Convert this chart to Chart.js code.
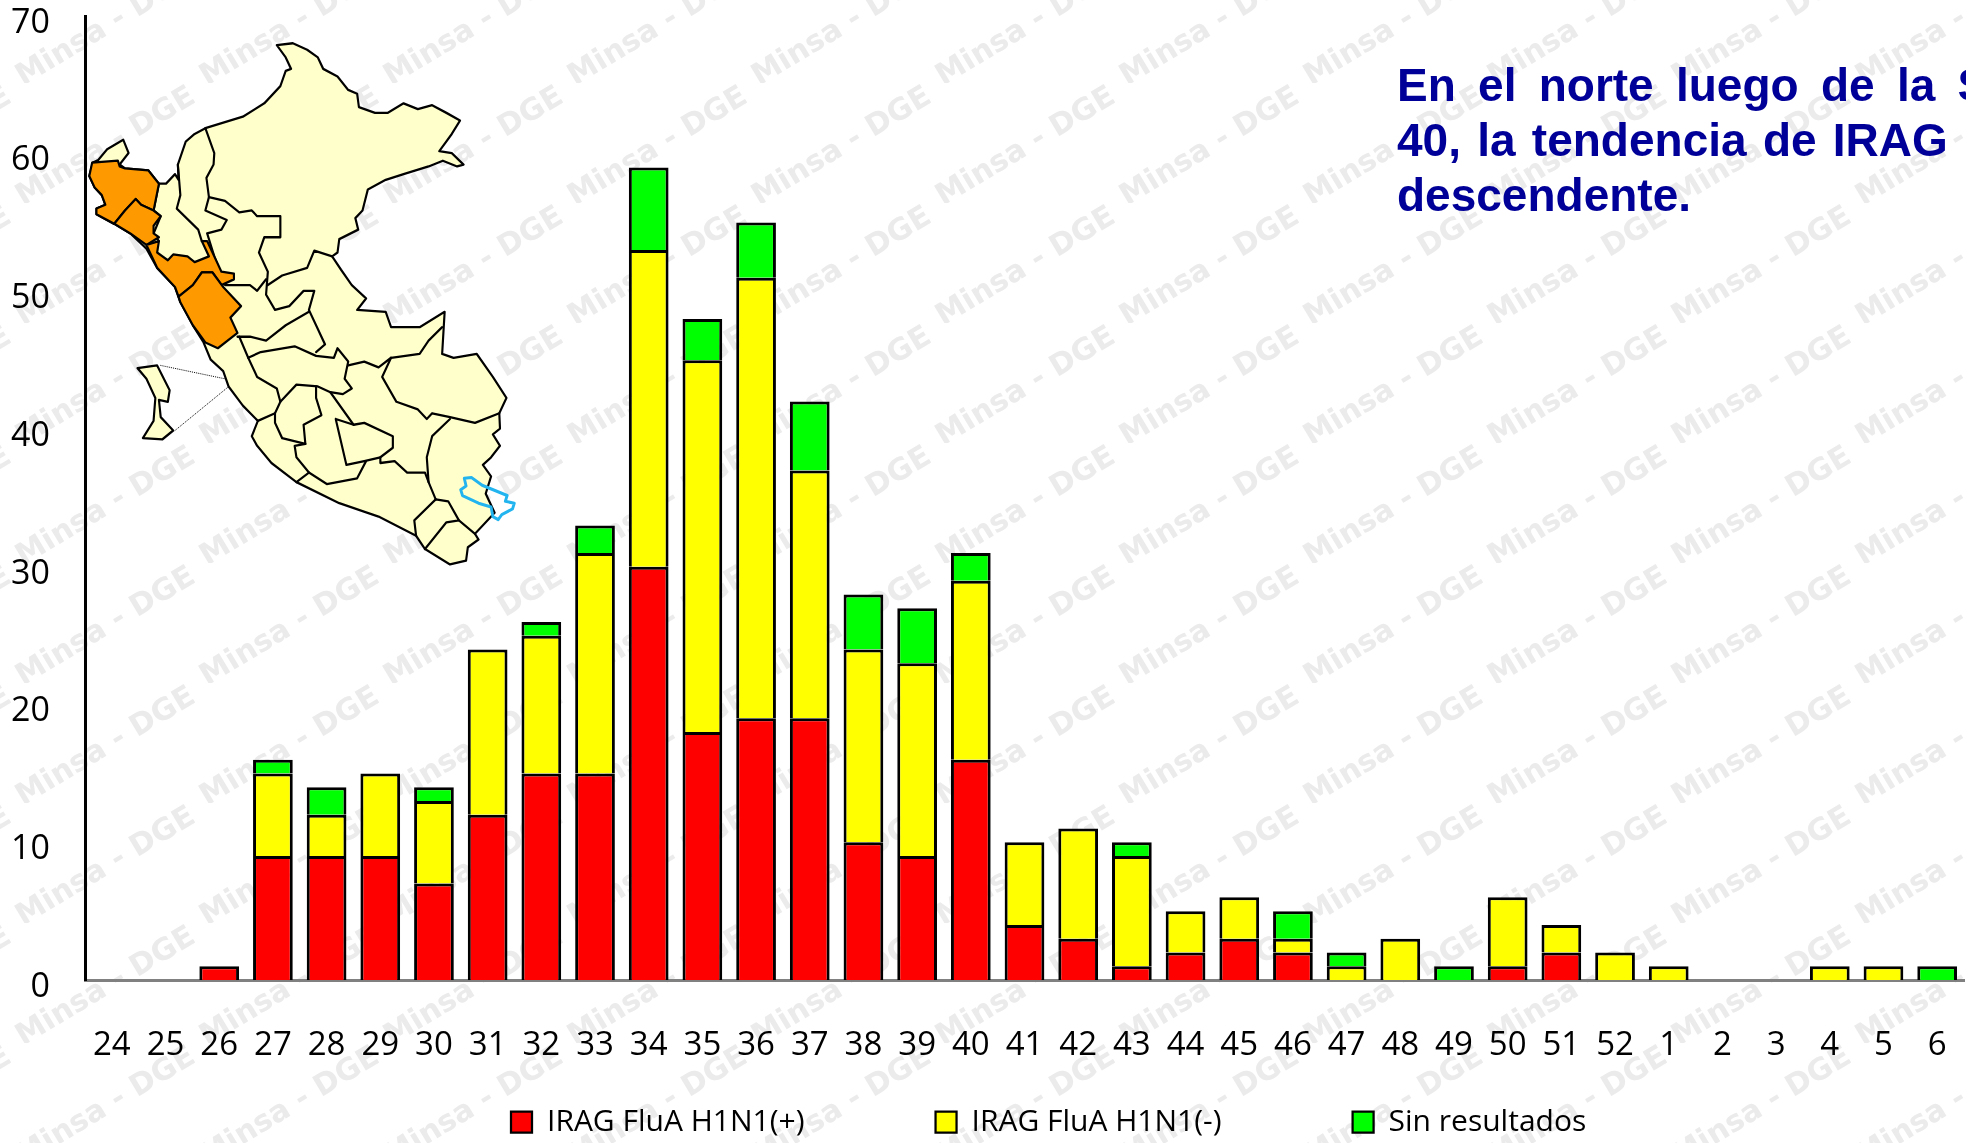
<!DOCTYPE html>
<html lang="es">
<head>
<meta charset="utf-8">
<title>IRAG FluA H1N1</title>
<script src="https://cdn.jsdelivr.net/npm/chart.js@4"></script>
<style>
html,body{margin:0;padding:0;background:#fff;width:1966px;height:1143px;overflow:hidden}
#wrap{position:relative;width:1966px;height:1143px;overflow:hidden}
#c{position:absolute;left:0;top:0}
#map{position:absolute;left:0;top:0;width:560px;height:600px}
.msg{position:absolute;left:1397px;white-space:nowrap;font:bold 46px/55px "Liberation Sans",Arial,sans-serif;color:#000099}
</style>
</head>
<body>
<div id="wrap">
<canvas id="c" width="1966" height="1143"></canvas>
<svg id="map" viewBox="0 0 1568 1568" preserveAspectRatio="none" stroke-linejoin="round" stroke-linecap="round">
  <g fill="#FFFFCC" stroke="#000" stroke-width="6">
    <path d="M775,118 820,113 860,130 890,150 905,180 945,200 975,235 1000,245 1005,280 1050,295 1085,295 1130,270 1170,285 1210,275 1250,295 1288,315 1265,350 1230,395 1265,400 1298,430 1280,435 1240,420 1200,435 1130,455 1080,470 1030,495 1015,550 995,570 1003,600 950,625 945,660 930,670 955,705 985,745 1025,780 1000,810 1080,815 1095,855 1175,855 1245,815 1238,925 1270,935 1335,925 1380,985 1418,1040 1398,1080 1400,1120 1380,1135 1400,1165 1375,1195 1352,1215 1375,1245 1360,1290 1385,1340 1330,1395 1340,1410 1310,1430 1305,1465 1260,1475 1190,1435 1165,1400 1060,1350 950,1315 830,1260 760,1210 720,1165 705,1140 722,1100 680,1060 640,1010 625,970 590,940 570,895 540,850 505,790 490,750 440,700 410,650 365,610 320,585 270,560 270,545 295,535 285,510 265,490 250,460 260,425 275,418 300,390 345,365 360,400 335,430 350,440 415,445 445,480 465,480 490,455 500,470 498,430 520,370 545,350 575,335 680,305 740,270 785,225 800,185 815,180 800,150Z"/>
    <path d="M385,962 440,955 475,1020 470,1050 445,1045 450,1090 485,1125 455,1148 400,1145 430,1100 435,1040 410,990Z"/>
  </g>
  <g fill="none" stroke="#000" stroke-width="6">
    <path d="M575,335 600,400 598,430 578,465 585,515 630,525 670,555 705,550 720,565 785,565 785,620 740,620 725,660 750,710 745,770 770,810 810,800 850,760 880,760 865,810 885,850 910,900 885,920"/>
    <path d="M750,745 790,720 860,700 880,655 930,670"/>
    <path d="M445,480 430,550 450,565 430,610 445,630"/>
    <path d="M498,430 505,510 495,545 555,600 565,630"/>
    <path d="M585,515 575,550 635,575 620,600 580,610 600,670 620,720"/>
    <path d="M630,745 700,745 720,760 745,730"/>
    <path d="M665,880 700,880 745,890 800,850 865,815"/>
    <path d="M695,935 730,920 825,905 885,930 935,935 945,910 975,945 965,990 985,1015 960,1030 925,1025 890,1010 830,1005 785,1050"/>
    <path d="M670,880 695,935 720,985 775,1015 785,1050 770,1080 722,1100"/>
    <path d="M975,955 1020,945 1060,960 1095,935 1175,925 1200,890 1238,855"/>
    <path d="M1095,935 1070,985 1110,1050 1170,1070 1195,1095 1210,1080 1260,1090 1330,1105 1398,1080"/>
    <path d="M1260,1095 1210,1140 1195,1195 1200,1260 1220,1305"/>
    <path d="M925,1025 990,1110 1020,1105 1100,1140 1100,1170 1065,1195 1065,1210 1105,1205 1140,1235 1190,1235 1200,1260"/>
    <path d="M940,1095 990,1110 M1065,1195 1020,1205 970,1215 940,1095"/>
    <path d="M885,1010 885,1040 900,1085 850,1110 855,1160 790,1145 770,1105 770,1080"/>
    <path d="M855,1160 825,1165 830,1195 865,1235 830,1260"/>
    <path d="M865,1235 915,1265 1000,1250 1025,1205"/>
    <path d="M1220,1305 1160,1360 1165,1400"/>
    <path d="M1220,1305 1255,1310 1285,1360 1250,1365 1190,1435"/>
    <path d="M1285,1360 1330,1395"/>
  </g>
  <g fill="#FF9900" stroke="#000" stroke-width="6">
    <path d="M258,425 330,420 335,435 350,440 415,445 445,480 430,550 395,535 380,520 350,550 320,585 270,560 270,545 295,535 285,510 265,490 250,460Z"/>
    <path d="M320,585 350,550 380,520 395,535 430,550 450,565 430,590 430,610 445,620 410,640 365,610Z"/>
    <path d="M410,640 445,630 440,660 470,680 485,665 525,670 545,685 585,670 565,630 580,630 620,710 655,715 655,730 620,745 595,712 565,712 540,745 500,775 490,750 440,700Z"/>
    <path d="M500,775 540,745 565,712 595,712 625,750 675,800 645,830 665,870 610,910 575,895 540,850 505,790Z"/>
  </g>
  <path d="M1300,1250 1320,1248 1350,1268 1420,1295 1415,1310 1440,1315 1435,1330 1405,1345 1395,1358 1380,1350 1375,1325 1340,1315 1295,1295 1290,1280 1305,1270Z" fill="none" stroke="#22B4EE" stroke-width="8"/>
  <g fill="none" stroke="#000" stroke-width="2.5" stroke-dasharray="1 5">
    <path d="M450,955 630,990"/>
    <path d="M490,1125 638,1012"/>
  </g>
</svg>
<div class="msg" style="top:58px;word-spacing:9.5px">En el norte luego de la S</div>
<div class="msg" style="top:113px;word-spacing:3.5px">40, la tendencia de IRAG</div>
<div class="msg" style="top:168px">descendente.</div>
</div>
<script>
const weeks = ['24','25','26','27','28','29','30','31','32','33','34','35','36','37','38','39','40','41','42','43','44','45','46','47','48','49','50','51','52','1','2','3','4','5','6'];
const fluPositive = [null,null,1,9,9,9,7,12,15,15,30,18,19,19,10,9,16,4,3,1,2,3,2,null,null,null,1,2,null,null,null,null,null,null,null];
const fluNegative = [null,null,null,6,3,6,6,12,10,16,23,27,32,18,14,14,13,6,8,8,3,3,1,1,3,null,5,2,2,1,null,null,1,1,null];
const sinResultados = [null,null,null,1,2,null,1,null,1,2,6,3,4,5,4,4,2,null,null,1,null,null,2,1,null,1,null,null,null,null,null,null,null,null,1];
const seriesNames = ['IRAG FluA H1N1(+)','IRAG FluA H1N1(-)','Sin resultados'];
const yTicks = [0,10,20,30,40,50,60,70];
const watermark = 'Minsa - DGE';

const border = {top:3,left:3,right:3,bottom:0};

const wmPlugin = {
  id:'wm',
  beforeDraw(chart){
    const ctx = chart.ctx;
    const tw = 184, th = 120;
    ctx.save();
    ctx.font = 'bold 30px "DejaVu Sans"';
    ctx.fillStyle = '#ebebeb';
    ctx.textAlign = 'center';
    ctx.textBaseline = 'middle';
    for(let r=0;r<11;r++){
      for(let c=0;c<12;c++){
        const x0 = 14 + (c-1)*tw, y0 = -37 + r*th;
        ctx.save();
        ctx.beginPath();
        ctx.rect(x0,y0,tw,th);
        ctx.clip();
        ctx.translate(x0+92, y0+64);
        ctx.rotate(-31*Math.PI/180);
        ctx.fillText(watermark,0,0);
        ctx.restore();
      }
    }
    ctx.restore();
  }
};

const legendPlugin = {
  id:'legendPlace',
  beforeLayout(chart){
    const lg = chart.legend;
    if(lg && !lg._patched){
      const fit = lg.fit;
      lg.fit = function(){ fit.call(this); this.height = 63; };
      lg._patched = true;
    }
  },
  afterLayout(chart){
    const lg = chart.legend;
    const pad = lg.options.labels.padding;
    lg.left = 511 - pad;
    lg.right = 1640 + pad;
    lg.top = 1107 - pad;
    lg.bottom = 1143;
  }
};

function shiftLabels(dy){
  return function(s){
    if(!s._shifted){
      const orig = s._computeLabelItems.bind(s);
      s._computeLabelItems = a => orig(a).map(i => { i.options.translation[1] += dy; return i; });
      s._shifted = true;
    }
  };
}

new Chart(document.getElementById('c'),{
  type:'bar',
  data:{
    labels:weeks,
    datasets:[
      {label:seriesNames[0],data:fluPositive,backgroundColor:'#FF0000'},
      {label:seriesNames[1],data:fluNegative,backgroundColor:'#FFFF00'},
      {label:seriesNames[2],data:sinResultados,backgroundColor:'#00FF00'}
    ].map(d=>Object.assign(d,{borderColor:'#000',borderWidth:border,borderSkipped:false,barPercentage:1,categoryPercentage:0.74}))
  },
  plugins:[wmPlugin,legendPlugin],
  options:{
    responsive:false,
    animation:false,
    layout:{padding:{left:0,right:2,top:16,bottom:0}},
    plugins:{
      legend:{
        position:'bottom',
        align:'start',
        labels:{
          font:{family:'"Open Sans"',size:30},
          color:'#000',
          boxWidth:21,
          boxHeight:21,
          padding:131
        }
      },
      tooltip:{enabled:false}
    },
    scales:{
      x:{
        stacked:true,
        grid:{display:false,drawTicks:false},
        border:{color:'#808080',width:3},
        ticks:{autoSkip:false,maxRotation:0,minRotation:0,padding:46,color:'#000',font:{family:'"Open Sans"',size:33}},
        afterFit(s){s.height=100;s.paddingLeft=0;s.paddingRight=0;}
      },
      y:{
        stacked:true,
        min:0,
        max:70,
        afterBuildTicks(s){s.ticks=yTicks.map(v=>({value:v}));},
        grid:{display:false,drawTicks:false},
        border:{color:'#000',width:3},
        ticks:{padding:35,color:'#000',font:{family:'"Open Sans"',size:34}},
        afterFit(s){s.width=85;s.paddingTop=0;s.paddingBottom=0;shiftLabels(7)(s);}
      }
    }
  }
});
</script>
</body>
</html>
